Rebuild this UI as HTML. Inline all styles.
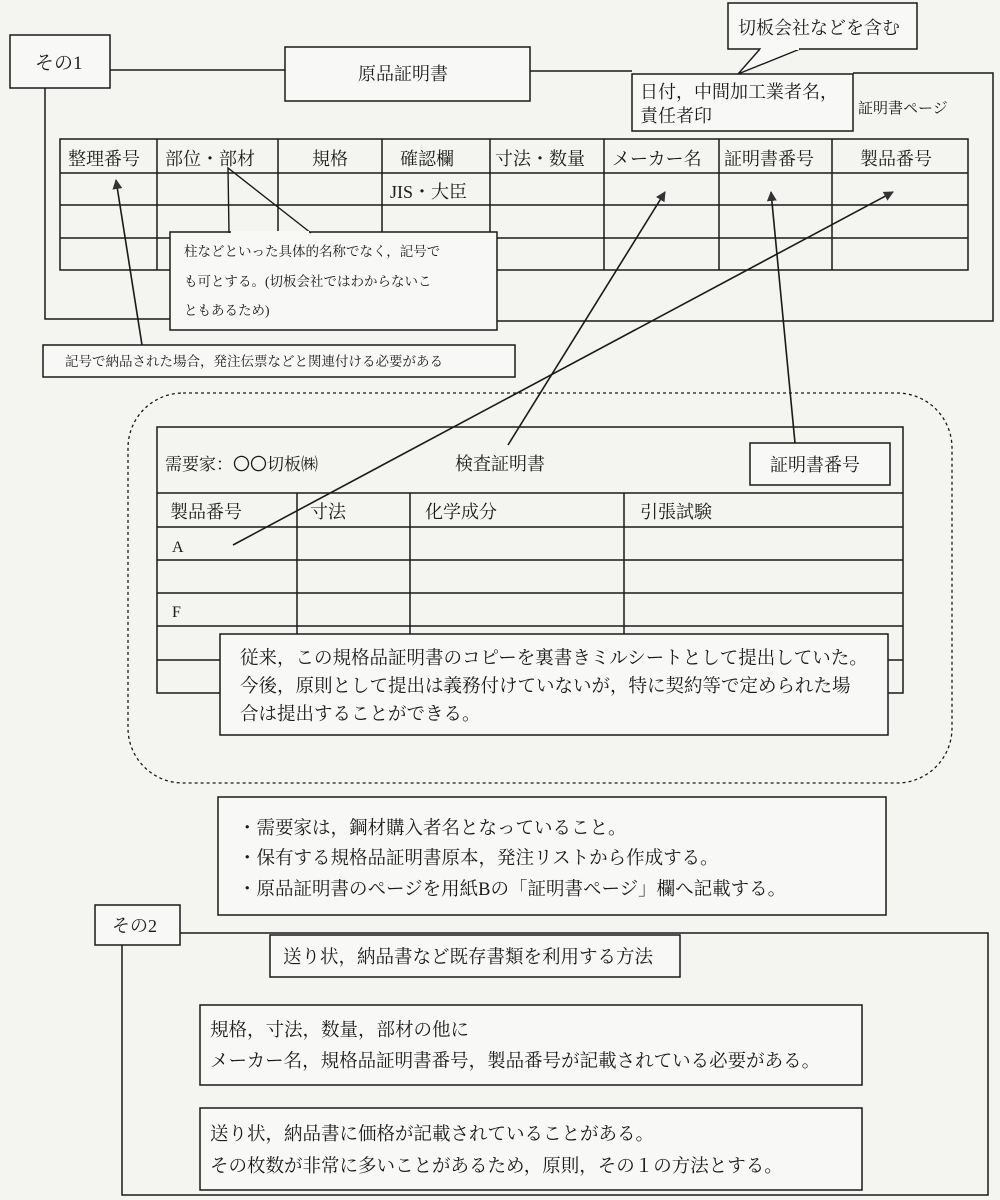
<!DOCTYPE html>
<html><head><meta charset="utf-8"><style>
html,body{margin:0;padding:0;background:#f4f4f1}
svg{display:block}
text{font-family:"Liberation Serif","Noto Serif CJK SC","Noto Sans CJK JP",serif;fill:#1a1a1a}
</style></head><body>
<svg width="1000" height="1200" viewBox="0 0 1000 1200" xmlns="http://www.w3.org/2000/svg">
<defs><marker id="ah" markerWidth="10" markerHeight="10" refX="9" refY="5" orient="auto" markerUnits="userSpaceOnUse"><path d="M0,0 L10,5 L0,10 z" fill="#333"/></marker></defs>
<rect width="1000" height="1200" fill="#f4f4f1"/>
<g stroke="#1a1a1a" stroke-width="1.5" fill="none">
<polyline points="110,70 285,70"/>
<polyline points="530,71 632,71"/>
<polyline points="853,73 993,73 993,321 497,321"/>
<polyline points="45,88 45,319 170,319"/>
<rect x="10" y="35" width="100" height="53" fill="#f8f8f6"/>
<rect x="285" y="47" width="245" height="54" fill="#f8f8f6"/>
<rect x="632" y="74" width="221" height="57" fill="#f8f8f6"/>
<rect x="728" y="3" width="189" height="46" fill="#f8f8f6"/>
<rect x="60" y="139" width="908" height="131"/>
<line x1="60" y1="173" x2="968" y2="173"/>
<line x1="60" y1="205" x2="968" y2="205"/>
<line x1="60" y1="238" x2="968" y2="238"/>
<line x1="157" y1="139" x2="157" y2="270"/><line x1="278" y1="139" x2="278" y2="270"/>
<line x1="382" y1="139" x2="382" y2="270"/><line x1="490" y1="139" x2="490" y2="270"/>
<line x1="604" y1="139" x2="604" y2="270"/><line x1="719" y1="139" x2="719" y2="270"/>
<line x1="832" y1="139" x2="832" y2="270"/>
<rect x="170" y="232" width="327" height="98" fill="#f8f8f6"/>
<rect x="43" y="345" width="472" height="32" fill="#f8f8f6"/>
<rect x="128" y="393" width="824" height="390" rx="55" stroke-dasharray="3,3" stroke-width="1.3"/>
<rect x="157" y="427" width="746" height="266"/>
<line x1="157" y1="493" x2="903" y2="493"/><line x1="157" y1="527" x2="903" y2="527"/>
<line x1="157" y1="560" x2="903" y2="560"/><line x1="157" y1="593" x2="903" y2="593"/>
<line x1="157" y1="626" x2="903" y2="626"/><line x1="157" y1="660" x2="903" y2="660"/>
<line x1="297" y1="493" x2="297" y2="693"/><line x1="410" y1="493" x2="410" y2="693"/>
<line x1="624" y1="493" x2="624" y2="693"/>
<rect x="750" y="443" width="140" height="42" fill="#f8f8f6"/>
<rect x="220" y="634" width="668" height="101" fill="#f8f8f6"/>
<rect x="218" y="797" width="668" height="118" fill="#f8f8f6"/>
<polyline points="180,933 988,933 988,1195 122,1195 122,945"/>
<rect x="95" y="905" width="85" height="40" fill="#f8f8f6"/>
<rect x="270" y="935" width="410" height="42" fill="#f8f8f6"/>
<rect x="200" y="1005" width="662" height="80" fill="#f8f8f6"/>
<rect x="200" y="1108" width="662" height="82" fill="#f8f8f6"/>
</g>
<g stroke="#1a1a1a" stroke-width="1.4" fill="none">
<polyline points="760,49 738,74 800,49" fill="#f8f8f6"/>
<line x1="761" y1="49" x2="799" y2="49" stroke="#f8f8f6" stroke-width="2"/>
<polyline points="229,233 228,168 311,233"/>
<line x1="231" y1="232" x2="309" y2="232" stroke="#f8f8f6" stroke-width="2"/>
</g>
<g stroke="#1a1a1a" stroke-width="1.6" marker-end="url(#ah)">
<line x1="142" y1="345" x2="116" y2="180"/>
<line x1="508" y1="445" x2="665" y2="192"/>
<line x1="795" y1="443" x2="771" y2="192"/>
<line x1="233" y1="545" x2="893" y2="192"/>
</g>
<g font-size="18">
<text x="35" y="69" font-size="19">その1</text>
<text x="358" y="80">原品証明書</text>
<text x="738" y="34">切板会社などを含む</text>
<text x="640" y="98">日付，中間加工業者名，</text>
<text x="640" y="122">責任者印</text>
<text x="858" y="113" font-size="15">証明書ページ</text>
<text x="68" y="165">整理番号</text><text x="165" y="165">部位・部材</text>
<text x="312" y="165">規格</text><text x="400" y="165">確認欄</text>
<text x="495" y="165">寸法・数量</text><text x="612" y="165">メーカー名</text>
<text x="724" y="165">証明書番号</text><text x="860" y="165">製品番号</text>
<text x="390" y="198">JIS・大臣</text>
<g font-size="13.5"><text x="184" y="256">柱などといった具体的名称でなく，記号で</text>
<text x="184" y="286">も可とする。(切板会社ではわからないこ</text>
<text x="184" y="315">ともあるため)</text>
<text x="65" y="366">記号で納品された場合，発注伝票などと関連付ける必要がある</text></g>
<text x="165" y="470" font-size="17">需要家：<tspan font-family="Noto Sans CJK JP">〇〇</tspan>切板㈱</text>
<text x="455" y="470">検査証明書</text>
<text x="770" y="471">証明書番号</text>
<text x="170" y="518">製品番号</text><text x="310" y="518">寸法</text>
<text x="425" y="518">化学成分</text><text x="640" y="518">引張試験</text>
<text x="172" y="552" font-size="16">A</text><text x="172" y="617" font-size="16">F</text>
<g font-size="18.5">
<text x="240" y="664">従来，この規格品証明書のコピーを裏書きミルシートとして提出していた。</text>
<text x="240" y="692">今後，原則として提出は義務付けていないが，特に契約等で定められた場</text>
<text x="240" y="720">合は提出することができる。</text>
<text x="238" y="834">・需要家は，鋼材購入者名となっていること。</text>
<text x="238" y="864">・保有する規格品証明書原本，発注リストから作成する。</text>
<text x="238" y="895">・原品証明書のページを用紙Bの「証明書ページ」欄へ記載する。</text>
<text x="283" y="963">送り状，納品書など既存書類を利用する方法</text>
<text x="210" y="1036">規格，寸法，数量，部材の他に</text>
<text x="210" y="1067">メーカー名，規格品証明書番号，製品番号が記載されている必要がある。</text>
<text x="210" y="1140">送り状，納品書に価格が記載されていることがある。</text>
<text x="210" y="1172">その枚数が非常に多いことがあるため，原則，その１の方法とする。</text>
</g>
<text x="112" y="932">その2</text>
</g>
</svg>
</body></html>
